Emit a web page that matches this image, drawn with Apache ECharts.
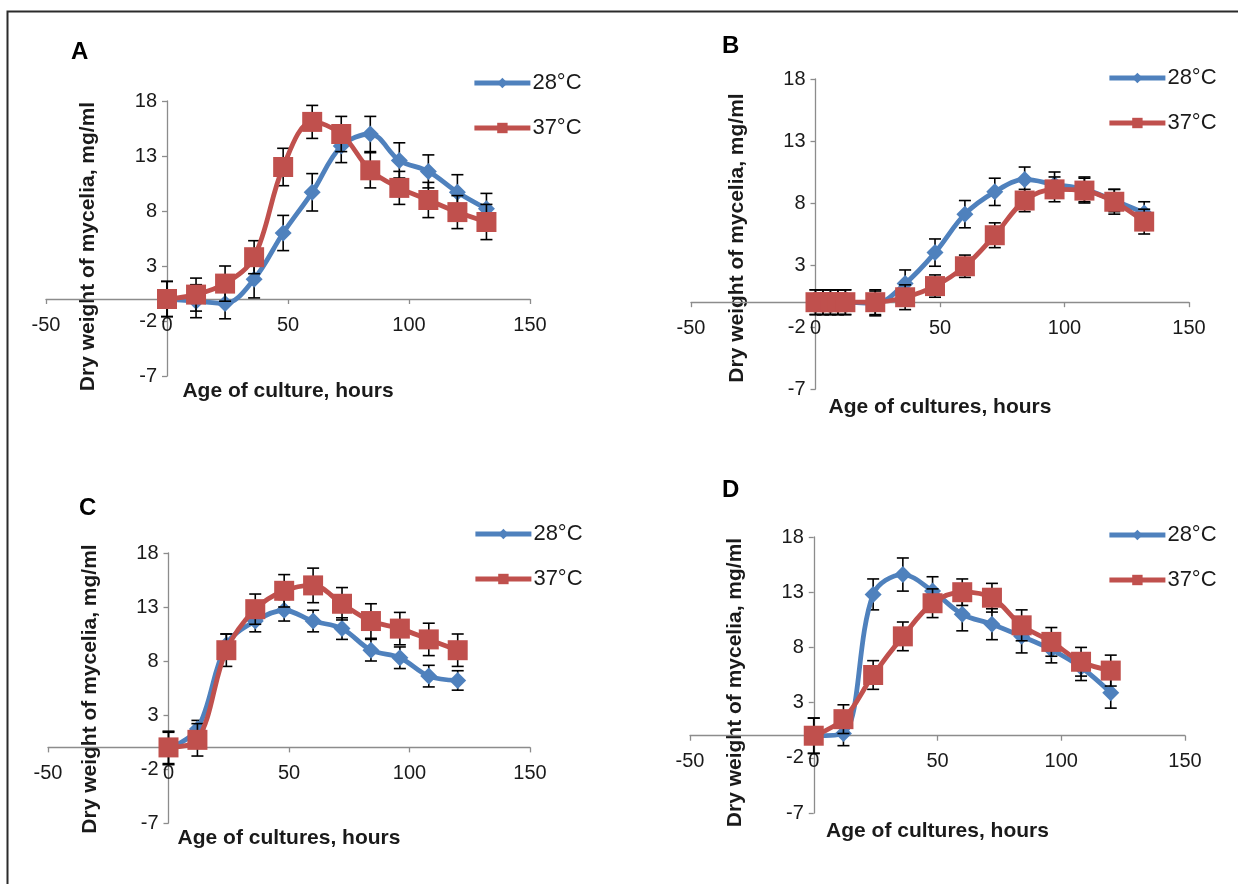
<!DOCTYPE html>
<html>
<head>
<meta charset="utf-8">
<script src="https://cdn.jsdelivr.net/npm/echarts@6/dist/echarts.min.js"></script>
<style>
  html, body { margin: 0; padding: 0; background: #fff; }
  #chart { width: 1238px; height: 884px; }
</style>
</head>
<body>
<div id="chart"></div>
<script>
// Dry weight of mycelia vs age of culture, four panels (A-D), 28°C vs 37°C

const seriesNames = ['28°C', '37°C'];
const panelLetters = ['A', 'B', 'C', 'D'];
const xNames = ['Age of culture, hours', 'Age of cultures, hours', 'Age of cultures, hours', 'Age of cultures, hours'];
const yName = 'Dry weight of mycelia, mg/ml';

// Panel A
const hoursA = [0, 12, 24, 36, 48, 60, 72, 84, 96, 108, 120, 132];
const a28 = [0, -0.2, -0.4, 1.8, 6.0, 9.7, 13.9, 15.0, 12.6, 11.6, 9.7, 8.2];
const a28Err = [1.6, 1.5, 1.4, 1.7, 1.6, 1.7, 1.5, 1.6, 1.6, 1.5, 1.6, 1.4];
const a37 = [0, 0.4, 1.4, 3.8, 12.0, 16.1, 15.0, 11.7, 10.1, 9.0, 7.9, 7.0];
const a37Err = [1.6, 1.5, 1.6, 1.5, 1.7, 1.5, 1.6, 1.6, 1.5, 1.6, 1.5, 1.6];

// Panel B
const hoursB = [0, 3, 6, 9, 12, 24, 36, 48, 60, 72, 84, 96, 108, 120, 132];
const b28 = [0, 0, 0, 0, 0, -0.1, 1.5, 4.0, 7.1, 8.9, 9.9, 9.5, 9.1, 8.2, 7.2];
const b28Err = [1.0, 1.0, 1.0, 1.0, 1.0, 1.0, 1.1, 1.1, 1.1, 1.1, 1.0, 1.0, 1.0, 0.9, 0.9];
const b37 = [0, 0, 0, 0, 0, 0, 0.4, 1.3, 2.9, 5.4, 8.2, 9.1, 9.0, 8.1, 6.5];
const b37Err = [1.0, 1.0, 1.0, 1.0, 1.0, 1.0, 1.0, 0.9, 0.9, 1.0, 0.9, 1.0, 1.0, 1.0, 1.0];

// Panel C
const hoursC = [0, 12, 24, 36, 48, 60, 72, 84, 96, 108, 120];
const c28 = [-0.1, 1.7, 9.5, 11.7, 12.7, 11.7, 11.0, 9.0, 8.3, 6.6, 6.2];
const c28Err = [1.5, 0.8, 1.0, 1.0, 1.0, 1.0, 1.0, 1.0, 1.0, 1.0, 0.9];
const c37 = [0, 0.7, 9.0, 12.8, 14.5, 15.0, 13.3, 11.7, 11.0, 10.0, 9.0];
const c37Err = [1.5, 1.5, 1.5, 1.4, 1.5, 1.6, 1.5, 1.6, 1.5, 1.5, 1.5];

// Panel D
const hoursD = [0, 12, 24, 36, 48, 60, 72, 84, 96, 108, 120];
const d28 = [0, 0.2, 12.8, 14.6, 13.1, 11.0, 10.1, 9.0, 7.8, 6.2, 3.9];
const d28Err = [1.6, 1.1, 1.4, 1.5, 1.3, 1.5, 1.4, 1.5, 1.2, 1.2, 1.4];
const d37 = [0, 1.5, 5.5, 9.0, 12.0, 13.0, 12.5, 10.0, 8.5, 6.7, 5.9];
const d37Err = [1.6, 1.3, 1.3, 1.3, 1.3, 1.2, 1.3, 1.4, 1.3, 1.3, 1.4];

const xTicks = { min: -50, max: 150, interval: 50 };
const yTicks = { min: -7, max: 18, interval: 5 };

const panelData = [
  { hours: hoursA, s28: a28, e28: a28Err, s37: a37, e37: a37Err },
  { hours: hoursB, s28: b28, e28: b28Err, s37: b37, e37: b37Err },
  { hours: hoursC, s28: c28, e28: c28Err, s37: c37, e37: c37Err },
  { hours: hoursD, s28: d28, e28: d28Err, s37: d37, e37: d37Err }
];

// layout of each panel (pixels); xGap/yShift place the axis names
const layout = [
  { left: 46, top: 101, width: 484, height: 275, title: [71, 40], legend: [472, 72], xGap: 82, yShift: 16 },
  { left: 691, top: 79, width: 498, height: 310, title: [722, 34], legend: [1107, 67], xGap: 95, yShift: 8 },
  { left: 48, top: 553, width: 482, height: 270, title: [79, 496], legend: [473, 523], xGap: 80, yShift: 2 },
  { left: 690, top: 537, width: 495, height: 276, title: [722, 478], legend: [1107, 524], xGap: 85, yShift: 15 }
];

const FONT = 'Liberation Sans, Arial, sans-serif';
const BLUE = '#4F81BD';
const RED = '#C0504D';
const AXIS = '#8C8C8C';
const TEXT = '#1a1a1a';

const chart = echarts.init(document.getElementById('chart'));

function errorBars(params, api) {
  const x = api.value(0);
  const lo = api.coord([x, api.value(1)]);
  const hi = api.coord([x, api.value(2)]);
  const half = 6;
  const style = { stroke: '#000', lineWidth: 1.6 };
  return {
    type: 'group',
    children: [
      { type: 'line', shape: { x1: lo[0], y1: lo[1], x2: hi[0], y2: hi[1] }, style },
      { type: 'line', shape: { x1: lo[0] - half, y1: lo[1], x2: lo[0] + half, y2: lo[1] }, style },
      { type: 'line', shape: { x1: hi[0] - half, y1: hi[1], x2: hi[0] + half, y2: hi[1] }, style }
    ]
  };
}

const grid = [], xAxis = [], yAxis = [], legend = [], title = [], series = [];
const noBounds = { outerBoundsMode: 'none', containLabel: false };
const axisLineStyle = { color: AXIS, width: 1.3 };
const nameStyle = { color: TEXT, fontSize: 21, fontWeight: 'bold', fontFamily: FONT };
const hiddenAxis = (gi, r) => ({ type: 'value', gridIndex: gi, show: false, min: r.min, max: r.max });

layout.forEach((L, i) => {
  const d = panelData[i];
  const zeroX = L.left + L.width * (0 - xTicks.min) / (xTicks.max - xTicks.min);
  const zeroY = L.top + L.height * (yTicks.max - 0) / (yTicks.max - yTicks.min);
  const g = i * 3;

  // data grid, x-axis grid (bottom edge on y=0), y-axis grid (left edge on x=0)
  grid.push(Object.assign({ left: L.left, top: L.top, width: L.width, height: L.height }, noBounds));
  grid.push(Object.assign({ left: L.left, top: L.top, width: L.width, height: zeroY - L.top }, noBounds));
  grid.push(Object.assign({ left: zeroX, top: L.top, width: L.left + L.width - zeroX, height: L.height }, noBounds));

  xAxis.push(hiddenAxis(g, xTicks));
  xAxis.push({
    type: 'value', gridIndex: g + 1, min: xTicks.min, max: xTicks.max, interval: xTicks.interval,
    splitLine: { show: false },
    axisLine: { onZero: false, lineStyle: axisLineStyle },
    axisTick: { show: true, length: 5, lineStyle: axisLineStyle },
    axisLabel: { color: TEXT, fontSize: 20, fontFamily: FONT, margin: 16 },
    name: xNames[i], nameLocation: 'middle', nameGap: L.xGap, nameTextStyle: nameStyle
  });
  xAxis.push(hiddenAxis(g + 2, { min: 0, max: 1 }));

  yAxis.push(hiddenAxis(g, yTicks));
  yAxis.push(hiddenAxis(g + 1, { min: 0, max: 1 }));
  yAxis.push({
    type: 'value', gridIndex: g + 2, min: yTicks.min, max: yTicks.max, interval: yTicks.interval,
    splitLine: { show: false },
    axisLine: { onZero: false, lineStyle: axisLineStyle },
    axisTick: { show: true, length: 5, lineStyle: axisLineStyle },
    axisLabel: { color: TEXT, fontSize: 20, fontFamily: FONT, margin: 10 },
    name: yName, nameLocation: 'middle', nameGap: 68, nameRotate: 90,
    nameTextStyle: Object.assign({ padding: [0, L.yShift, 0, 0] }, nameStyle)
  });

  legend.push({
    left: L.legend[0], top: L.legend[1], orient: 'vertical', itemGap: 23, padding: 0,
    itemWidth: 56, itemHeight: 13,
    lineStyle: { width: 4.8 },
    textStyle: { color: TEXT, fontSize: 22, fontFamily: FONT, padding: [0, 0, 0, -3] },
    data: seriesNames.slice(),
    selectedMode: false
  });
  title.push({
    text: panelLetters[i], left: L.title[0], top: L.title[1], padding: 0,
    textStyle: { fontSize: 24, fontWeight: 'bold', color: '#000', fontFamily: FONT }
  });

  const defs = [
    { name: seriesNames[0], vals: d.s28, errs: d.e28, color: BLUE, symbol: 'diamond', size: 17 },
    { name: seriesNames[1], vals: d.s37, errs: d.e37, color: RED, symbol: 'rect', size: 20 }
  ];
  defs.forEach((s, k) => {
    series.push({
      type: 'custom', xAxisIndex: g, yAxisIndex: g, z: 2 + k * 2, silent: true,
      renderItem: errorBars, encode: { x: 0, y: [1, 2] },
      data: d.hours.map((h, j) => [h, s.vals[j] - s.errs[j], s.vals[j] + s.errs[j]])
    });
    series.push({
      type: 'line', name: s.name, xAxisIndex: g, yAxisIndex: g, z: 3 + k * 2,
      smooth: 0.35, symbol: s.symbol, symbolSize: s.size, showAllSymbol: true,
      lineStyle: { color: s.color, width: 4.8 },
      itemStyle: { color: s.color },
      data: d.hours.map((h, j) => [h, s.vals[j]])
    });
  });
});

chart.setOption({
  backgroundColor: '#fff',
  animation: false,
  title, grid, xAxis, yAxis, legend, series,
  graphic: [{
    type: 'rect', shape: { x: 7.5, y: 11.5, width: 1400, height: 1000 },
    style: { fill: 'none', stroke: '#2b2b2b', lineWidth: 2 }, silent: true, z: -1
  }]
});
</script>
</body>
</html>
